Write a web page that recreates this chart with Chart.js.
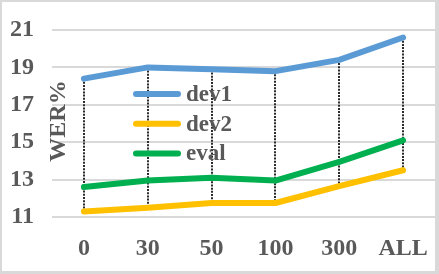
<!DOCTYPE html>
<html>
<head>
<meta charset="utf-8">
<script src="https://cdn.jsdelivr.net/npm/chart.js@4"></script>
<style>
html,body{margin:0;padding:0;background:#fff;}
#wrap{width:439px;height:274px;position:relative;}
</style>
</head>
<body>
<div id="wrap"><canvas id="c" width="439" height="274"></canvas></div>
<script>
const categories = ['0', '30', '50', '100', '300', 'ALL'];
const dev1 = [18.4, 19.0, 18.9, 18.8, 19.4, 20.6];
const dev2 = [11.3, 11.5, 11.75, 11.75, 12.65, 13.5];
const evalSet = [12.6, 12.95, 13.1, 12.95, 13.95, 15.1];
const seriesNames = ['dev1', 'dev2', 'eval'];
const yTicks = [11, 13, 15, 17, 19, 21];
const yTitle = 'WER%';

const FONT = 'bold 23px "Liberation Serif"';
const TEXT = '#595959';

const framePlugin = {
  id: 'frame',
  beforeDraw(chart) {
    const ctx = chart.ctx;
    ctx.save();
    ctx.fillStyle = '#D9D9D9';
    ctx.fillRect(0, 0, 439, 274);
    ctx.fillStyle = '#ffffff';
    ctx.fillRect(2, 2, 433, 269);
    ctx.restore();
  }
};

const dropPlugin = {
  id: 'drop',
  beforeDatasetsDraw(chart) {
    const ctx = chart.ctx;
    const m0 = chart.getDatasetMeta(0).data;
    const m1 = chart.getDatasetMeta(1).data;
    ctx.save();
    ctx.strokeStyle = '#2b2b2b';
    ctx.lineWidth = 2;
    ctx.setLineDash([2, 1.2]);
    for (let i = 0; i < m0.length; i++) {
      const x = Math.round(m0[i].x);
      ctx.beginPath();
      ctx.moveTo(x, m0[i].y);
      ctx.lineTo(x, m1[i].y);
      ctx.stroke();
    }
    ctx.restore();
  }
};

const legendTitlePlugin = {
  id: 'legendTitle',
  afterDatasetsDraw(chart) {
    const ctx = chart.ctx;
    const a = chart.chartArea;
    ctx.save();
    chart.data.datasets.forEach((ds, i) => {
      const y = a.top + 64 + i * 29.7;
      ctx.strokeStyle = ds.borderColor;
      ctx.lineWidth = 6;
      ctx.lineCap = 'round';
      ctx.beginPath();
      ctx.moveTo(a.left + 84, y);
      ctx.lineTo(a.left + 126, y);
      ctx.stroke();
      ctx.fillStyle = TEXT;
      ctx.font = FONT;
      ctx.textAlign = 'left';
      ctx.textBaseline = 'middle';
      ctx.fillText(ds.label, a.left + 134, y + 1);
    });
    ctx.translate(a.left + 13, 121);
    ctx.rotate(-Math.PI / 2);
    ctx.fillStyle = TEXT;
    ctx.font = 'bold 24px "Liberation Serif"';
    ctx.textAlign = 'center';
    ctx.textBaseline = 'alphabetic';
    ctx.fillText(yTitle, 0, 0);
    ctx.restore();
  }
};

const mk = (label, data, color) => ({
  label, data,
  borderColor: color,
  backgroundColor: color,
  borderWidth: 6,
  borderCapStyle: 'round',
  borderJoinStyle: 'round',
  pointRadius: 0,
  tension: 0,
  fill: false
});

new Chart(document.getElementById('c'), {
  type: 'line',
  data: {
    labels: categories,
    datasets: [
      mk(seriesNames[0], dev1, '#5B9BD5'),
      mk(seriesNames[1], dev2, '#FFC000'),
      mk(seriesNames[2], evalSet, '#00B050')
    ]
  },
  options: {
    responsive: false,
    animation: false,
    devicePixelRatio: 1,
    layout: { padding: { top: 30, right: 4, left: 0, bottom: 0 } },
    plugins: { legend: { display: false }, tooltip: { enabled: false } },
    scales: {
      x: {
        offset: true,
        grid: { display: false, drawTicks: false },
        border: { display: false },
        ticks: { color: TEXT, font: { family: 'Liberation Serif', size: 24, weight: 'bold' }, padding: 17, maxRotation: 0, autoSkip: false },
        afterFit(s) { s.height = 57; s.paddingLeft = 0; s.paddingRight = 0; }
      },
      y: {
        min: 11, max: 21,
        afterBuildTicks(s) { s.ticks = yTicks.map(v => ({ value: v })); },
        grid: { color: '#D9D9D9', lineWidth: 2, drawTicks: false },
        border: { display: false },
        ticks: { color: TEXT, font: { family: 'Liberation Serif', size: 24, weight: 'bold' }, padding: 18 },
        afterFit(s) { s.width = 52; s.paddingTop = 0; s.paddingBottom = 0; }
      }
    }
  },
  plugins: [framePlugin, dropPlugin, legendTitlePlugin]
});
</script>
</body>
</html>
